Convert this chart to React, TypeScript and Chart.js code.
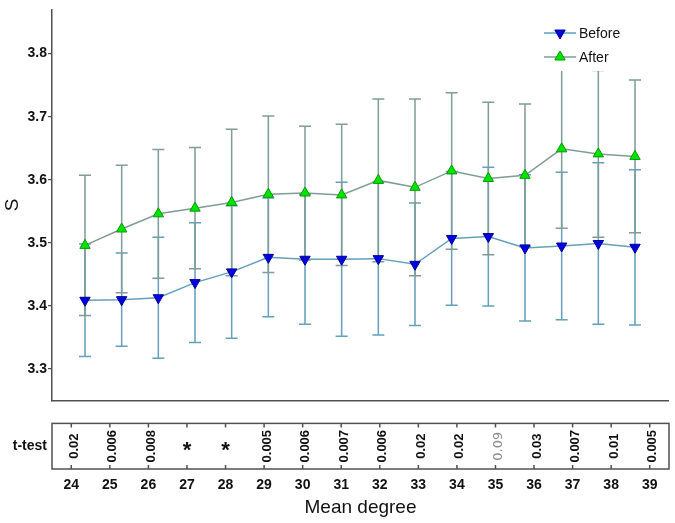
import React, { useEffect, useRef } from 'react';
import { Chart, registerables } from 'chart.js';

Chart.register(...registerables);

const degrees = [24, 25, 26, 27, 28, 29, 30, 31, 32, 33, 34, 35, 36, 37, 38, 39];
const beforeMean = [3.409, 3.410, 3.413, 3.437, 3.454, 3.477, 3.474, 3.474, 3.475, 3.466, 3.507, 3.510, 3.492, 3.495, 3.499, 3.493];
const beforeErr = [0.089, 0.074, 0.096, 0.095, 0.105, 0.094, 0.103, 0.122, 0.121, 0.097, 0.106, 0.110, 0.116, 0.117, 0.128, 0.123];
const afterMean = [3.496, 3.522, 3.546, 3.555, 3.564, 3.577, 3.579, 3.576, 3.599, 3.588, 3.614, 3.602, 3.607, 3.649, 3.641, 3.637];
const afterErr = [0.111, 0.101, 0.102, 0.096, 0.116, 0.124, 0.106, 0.112, 0.129, 0.140, 0.124, 0.121, 0.113, 0.126, 0.132, 0.121];
const tTest = ['0.02', '0.006', '0.008', '*', '*', '0.005', '0.006', '0.007', '0.006', '0.02', '0.02', '0.09', '0.03', '0.007', '0.01', '0.005'];
const yTicks = [3.3, 3.4, 3.5, 3.6, 3.7, 3.8];
const seriesNames = ['Before', 'After'];

const FONT = '"Liberation Sans", Arial, Helvetica, sans-serif';
const AXIS = '#505050';
const BEFORE_LINE = '#62a0bb';
const AFTER_LINE = '#7f9c96';
const BEFORE_FILL = '#0000e0';
const BEFORE_EDGE = '#00009a';
const AFTER_FILL = '#00e400';
const AFTER_EDGE = '#009a00';

const errLists = [beforeErr, afterErr];

function triPath(ctx: CanvasRenderingContext2D, x: number, y: number, r: number, down: boolean) {
  const s = down ? -1 : 1;
  ctx.beginPath();
  ctx.moveTo(x, y - s * r);
  ctx.lineTo(x + r * Math.sin((2 * Math.PI) / 3), y + s * r * 0.5);
  ctx.lineTo(x - r * Math.sin((2 * Math.PI) / 3), y + s * r * 0.5);
  ctx.closePath();
}

const errorBarPlugin = {
  id: 'errorBars',
  beforeDatasetsDraw(chart: any) {
    const { ctx } = chart;
    const xs = chart.scales.x;
    const ys = chart.scales.y;
    chart.data.datasets.forEach((ds: any, di: number) => {
      const errs = errLists[di];
      ctx.save();
      ctx.strokeStyle = ds.borderColor;
      ctx.lineWidth = 1.5;
      ds.data.forEach((p: any, i: number) => {
        const px = xs.getPixelForValue(p.x);
        const top = ys.getPixelForValue(p.y + errs[i]);
        const bot = ys.getPixelForValue(p.y - errs[i]);
        ctx.beginPath();
        ctx.moveTo(px, top);
        ctx.lineTo(px, bot);
        ctx.moveTo(px - 6, top);
        ctx.lineTo(px + 6, top);
        ctx.moveTo(px - 6, bot);
        ctx.lineTo(px + 6, bot);
        ctx.stroke();
      });
      ctx.restore();
    });
  },
};

const legendPlugin = {
  id: 'customLegend',
  afterDraw(chart: any) {
    const { ctx, chartArea } = chart;
    const lx = chartArea.right - 124;
    const ly = 33;
    ctx.save();
    ctx.fillStyle = '#ffffff';
    ctx.fillRect(lx - 7, ly - 20, 92, 58);
    chart.data.datasets.forEach((ds: any, di: number) => {
      const y = ly + di * 24;
      ctx.strokeStyle = ds.borderColor;
      ctx.lineWidth = 1.5;
      ctx.beginPath();
      ctx.moveTo(lx, y);
      ctx.lineTo(lx + 32, y);
      ctx.stroke();
      triPath(ctx, lx + 16, y, 6, di === 0);
      ctx.fillStyle = ds.pointBackgroundColor;
      ctx.fill();
      ctx.strokeStyle = ds.pointBorderColor;
      ctx.lineWidth = 1;
      ctx.stroke();
      ctx.fillStyle = '#111';
      ctx.font = `14px ${FONT}`;
      ctx.textAlign = 'left';
      ctx.textBaseline = 'middle';
      ctx.fillText(ds.label, lx + 35, y + 1);
    });
    ctx.restore();
  },
};

const boxPlugin = {
  id: 'boxAndLabels',
  afterDatasetsDraw(chart: any) {
    const { ctx, chartArea } = chart;
    const xs = chart.scales.x;
    ctx.save();
    ctx.strokeStyle = AXIS;
    ctx.lineWidth = 1.5;
    ctx.strokeRect(chartArea.left, chartArea.top, chartArea.right - chartArea.left, chartArea.bottom - chartArea.top);
    ctx.beginPath();
    degrees.forEach((d) => {
      const px = xs.getPixelForValue(d);
      ctx.moveTo(px, chartArea.top);
      ctx.lineTo(px, chartArea.top + 4);
      ctx.moveTo(px, chartArea.bottom);
      ctx.lineTo(px, chartArea.bottom - 4);
    });
    ctx.stroke();
    const meta = chart.getDatasetMeta(0);
    meta.data.forEach((el: any, i: number) => {
      const txt = tTest[i];
      const cx = el.x;
      const cy = el.y;
      if (txt === '*') {
        ctx.font = `bold 22px ${FONT}`;
        ctx.fillStyle = '#111';
        ctx.textAlign = 'center';
        ctx.textBaseline = 'alphabetic';
        const m = ctx.measureText(txt);
        ctx.fillText(txt, cx, cy + (m.actualBoundingBoxAscent - m.actualBoundingBoxDescent) / 2);
      } else {
        const weak = parseFloat(txt) >= 0.05;
        ctx.font = weak ? `13px "DejaVu Sans", ${FONT}` : `bold 13px ${FONT}`;
        ctx.fillStyle = weak ? '#8a8a8a' : '#111';
        ctx.textAlign = 'center';
        ctx.textBaseline = 'alphabetic';
        const m = ctx.measureText(txt);
        ctx.save();
        ctx.translate(cx, cy);
        ctx.rotate(-Math.PI / 2);
        ctx.fillText(txt, 0, (m.actualBoundingBoxAscent - m.actualBoundingBoxDescent) / 2 + 2);
        ctx.restore();
      }
    });
    ctx.restore();
  },
};

export default function App() {
  const topRef = useRef<HTMLCanvasElement>(null);
  const botRef = useRef<HTMLCanvasElement>(null);

  useEffect(() => {
    const top = new Chart(topRef.current as HTMLCanvasElement, {
      type: 'line',
      data: {
        datasets: [
          {
            label: seriesNames[0],
            data: degrees.map((d, i) => ({ x: d, y: beforeMean[i] })),
            borderColor: BEFORE_LINE,
            borderWidth: 1.5,
            pointStyle: 'triangle',
            rotation: 180,
            pointRadius: 6,
            pointBackgroundColor: BEFORE_FILL,
            pointBorderColor: BEFORE_EDGE,
            pointBorderWidth: 1,
            tension: 0,
          },
          {
            label: seriesNames[1],
            data: degrees.map((d, i) => ({ x: d, y: afterMean[i] })),
            borderColor: AFTER_LINE,
            borderWidth: 1.5,
            pointStyle: 'triangle',
            pointRadius: 6,
            pointBackgroundColor: AFTER_FILL,
            pointBorderColor: AFTER_EDGE,
            pointBorderWidth: 1,
            tension: 0,
          },
        ],
      },
      options: {
        animation: false,
        responsive: false,
        layout: { padding: { top: 4, right: 6, left: 0, bottom: 0 } },
        plugins: { legend: { display: false }, tooltip: { enabled: false } },
        scales: {
          x: {
            type: 'linear',
            min: 23.1,
            max: 39.9,
            ticks: { display: false },
            grid: { display: false },
            border: { display: true, color: AXIS, width: 1.5 },
            afterFit: (s: any) => { s.height = 5; },
          },
          y: {
            type: 'linear',
            min: 3.25,
            max: 3.87,
            afterBuildTicks: (s: any) => { s.ticks = yTicks.map((v) => ({ value: v })); },
            ticks: {
              font: { family: FONT, size: 14, weight: 'bold' },
              color: '#111',
              padding: 1,
              callback: (v: any) => Number(v).toFixed(1),
            },
            grid: { drawOnChartArea: false, tickLength: 4, color: AXIS, lineWidth: 1.2 },
            border: { display: true, color: AXIS, width: 1.5 },
            title: { display: true, text: 'S', font: { family: FONT, size: 19 }, color: '#111', padding: { top: 1, bottom: 0 } },
            afterFit: (s: any) => { s.width = 52; },
          },
        },
      },
      plugins: [errorBarPlugin, legendPlugin],
    } as any);

    const bot = new Chart(botRef.current as HTMLCanvasElement, {
      type: 'scatter',
      data: {
        datasets: [
          {
            label: 't-test',
            data: degrees.map((d) => ({ x: d, y: 0.5 })),
            pointRadius: 0,
            showLine: false,
          },
        ],
      },
      options: {
        animation: false,
        responsive: false,
        layout: { padding: { top: 10, right: 6, left: 0, bottom: 0 } },
        plugins: { legend: { display: false }, tooltip: { enabled: false } },
        scales: {
          x: {
            type: 'linear',
            min: 23.5,
            max: 39.5,
            afterBuildTicks: (s: any) => { s.ticks = degrees.map((v) => ({ value: v })); },
            ticks: { font: { family: FONT, size: 14, weight: 'bold' }, color: '#111', padding: 8, maxRotation: 0, autoSkip: false },
            grid: { display: false, drawTicks: false },
            border: { display: false },
            title: { display: true, text: 'Mean degree', font: { family: FONT, size: 19 }, color: '#111', padding: { top: 0, bottom: 4 } },
            afterFit: (s: any) => { s.height = 54; },
          },
          y: {
            type: 'linear',
            min: 0,
            max: 1,
            afterBuildTicks: (s: any) => { s.ticks = [{ value: 0.5 }]; },
            ticks: { font: { family: FONT, size: 14, weight: 'bold' }, color: '#111', padding: 5, callback: () => 't-test' },
            grid: { display: false, drawTicks: false },
            border: { display: false },
            afterFit: (s: any) => { s.width = 52; },
          },
        },
      },
      plugins: [boxPlugin],
    } as any);

    return () => {
      top.destroy();
      bot.destroy();
    };
  }, []);

  return (
    <div style={{ position: 'absolute', left: 0, top: 0, width: 675, height: 523, background: '#fff' }}>
      <canvas ref={topRef} width={675} height={410} style={{ position: 'absolute', left: 0, top: 0, width: 675, height: 410 }} />
      <canvas ref={botRef} width={675} height={113} style={{ position: 'absolute', left: 0, top: 410, width: 675, height: 113 }} />
    </div>
  );
}
